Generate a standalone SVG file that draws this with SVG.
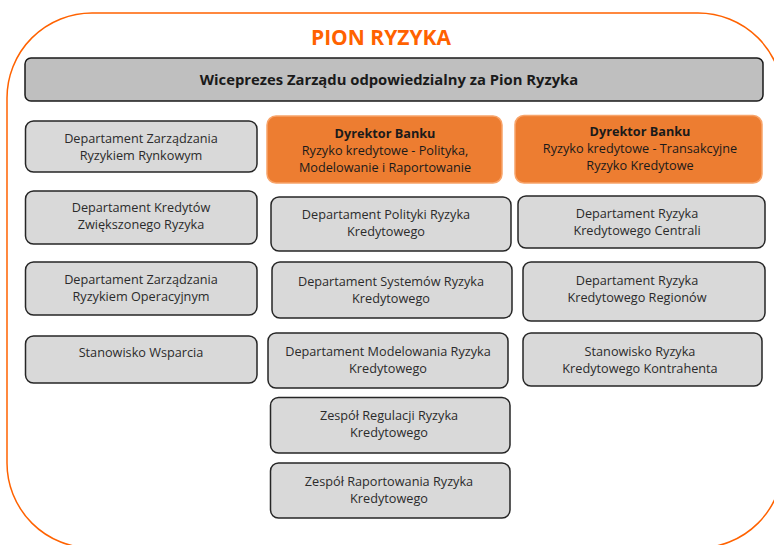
<svg xmlns="http://www.w3.org/2000/svg" width="774" height="545" viewBox="0 0 774 545">
<style>
.frame{fill:none;stroke:#FF6200;stroke-width:1.5}
.title{font-family:"Open Sans","Liberation Sans",sans-serif;font-weight:bold;font-size:21px;fill:#FF6200;text-anchor:middle}
.head rect{fill:#BFBFBF;stroke:#1a1a1a;stroke-width:1.5}
.head text{font-family:"Open Sans","Liberation Sans",sans-serif;font-weight:bold;font-size:14.8px;fill:#1a1a1a;text-anchor:middle}
.g rect{fill:#D9D9D9;stroke:#262626;stroke-width:1.5}
.o rect{fill:#ED7D31;stroke:#F8A46A;stroke-width:1.5}
text.t{font-family:"Open Sans","Liberation Sans",sans-serif;font-size:12.7px;fill:#2b2b2b;text-anchor:middle}
.o text.t{fill:#1a1a1a}
text.b{font-weight:bold}
</style>
<rect class="frame" x="7" y="13" width="776" height="535" rx="85" ry="85"/>
<text class="title" x="381" y="45">PION RYZYKA</text>
<g id="wiceprezes" class="head">
<rect x="25" y="58" width="738" height="43" rx="6"/>
<text x="389" y="85">Wiceprezes Zarządu odpowiedzialny za Pion Ryzyka</text>
</g>
<g id="connectors"></g>
<g id="dzrr" class="g"><rect x="25.5" y="121" width="231.5" height="51" rx="8"/>
<text class="t" x="141" y="143">Departament Zarządzania</text><text class="t" x="141" y="160">Ryzykiem Rynkowym</text></g>
<g id="dkzr" class="g"><rect x="25.5" y="191" width="231.5" height="53" rx="8"/>
<text class="t" x="141" y="212">Departament Kredytów</text><text class="t" x="141" y="229">Zwiększonego Ryzyka</text></g>
<g id="dzro" class="g"><rect x="25.5" y="262" width="231.5" height="53" rx="8"/>
<text class="t" x="141" y="284">Departament Zarządzania</text><text class="t" x="141" y="301">Ryzykiem Operacyjnym</text></g>
<g id="sw" class="g"><rect x="25.5" y="336" width="231.5" height="47" rx="8"/>
<text class="t" x="141" y="357">Stanowisko Wsparcia</text></g>

<g id="db1" class="o"><rect x="267" y="116" width="235" height="67" rx="9"/>
<text class="t b" x="385" y="138">Dyrektor Banku</text><text class="t" x="385" y="155">Ryzyko kredytowe - Polityka,</text><text class="t" x="385" y="172">Modelowanie i Raportowanie</text></g>
<g id="dprk" class="g"><rect x="271" y="197" width="240" height="54" rx="8"/>
<text class="t" x="386" y="219">Departament Polityki Ryzyka</text><text class="t" x="386" y="236">Kredytowego</text></g>
<g id="dsrk" class="g"><rect x="272" y="262" width="240" height="56" rx="8"/>
<text class="t" x="391" y="286">Departament Systemów Ryzyka</text><text class="t" x="391" y="303">Kredytowego</text></g>
<g id="dmrk" class="g"><rect x="268" y="333" width="240" height="55" rx="8"/>
<text class="t" x="388" y="356">Departament Modelowania Ryzyka</text><text class="t" x="388" y="373">Kredytowego</text></g>
<g id="zrrk" class="g"><rect x="270.5" y="397.5" width="239.5" height="55.5" rx="8"/>
<text class="t" x="389" y="420">Zespół Regulacji Ryzyka</text><text class="t" x="389" y="437">Kredytowego</text></g>
<g id="zraprk" class="g"><rect x="270.5" y="463" width="239.5" height="55" rx="8"/>
<text class="t" x="389" y="486">Zespół Raportowania Ryzyka</text><text class="t" x="389" y="503">Kredytowego</text></g>

<g id="db2" class="o"><rect x="515" y="115.5" width="247" height="67.5" rx="9"/>
<text class="t b" x="640" y="136">Dyrektor Banku</text><text class="t" x="640" y="153">Ryzyko kredytowe - Transakcyjne</text><text class="t" x="640" y="170">Ryzyko Kredytowe</text></g>
<g id="drkc" class="g"><rect x="518" y="196" width="247" height="52" rx="8"/>
<text class="t" x="637" y="218">Departament Ryzyka</text><text class="t" x="637" y="235">Kredytowego Centrali</text></g>
<g id="drkr" class="g"><rect x="523" y="262" width="242" height="59" rx="8"/>
<text class="t" x="637" y="285">Departament Ryzyka</text><text class="t" x="637" y="302">Kredytowego Regionów</text></g>
<g id="srkk" class="g"><rect x="523" y="333" width="239" height="53" rx="8"/>
<text class="t" x="640" y="356">Stanowisko Ryzyka</text><text class="t" x="640" y="373">Kredytowego Kontrahenta</text></g>
</svg>
